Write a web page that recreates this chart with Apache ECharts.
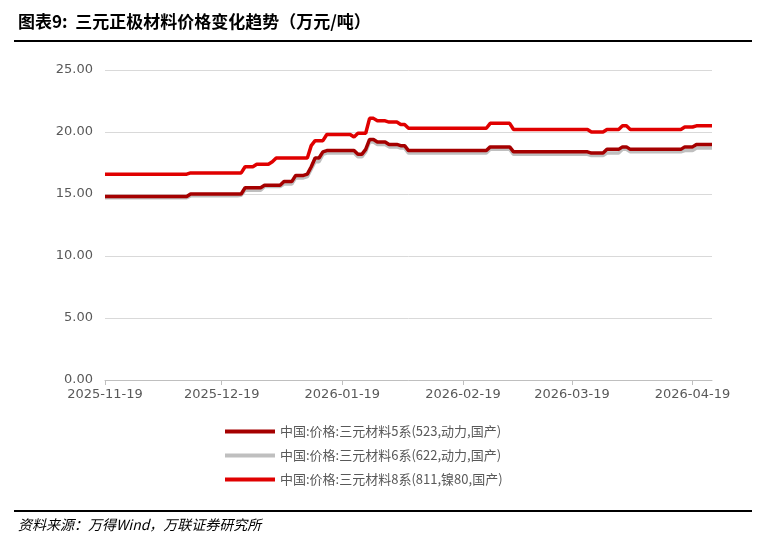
<!DOCTYPE html>
<html><head><meta charset="utf-8">
<script src="https://cdn.jsdelivr.net/npm/echarts@6/dist/echarts.min.js"></script>
<style>html,body{margin:0;padding:0;background:#fff}#c{width:766px;height:543px}</style>
</head><body><div id="c"></div>
<script>
const startDate = '2025-11-19', endDate = '2026-04-24';
const names = ['中国:价格:三元材料5系(523,动力,国产)','中国:价格:三元材料6系(622,动力,国产)','中国:价格:三元材料8系(811,镍80,国产)'];
// change points: [date, value]
const s523 = [['2025-11-19',14.8],['2025-12-11',15.0],['2025-12-24',15.0],['2025-12-25',15.5],['2025-12-30',15.7],['2026-01-04',16.0],['2026-01-07',16.5],['2026-01-10',16.6],['2026-01-11',17.2],['2026-01-12',17.9],['2026-01-14',18.4],['2026-01-15',18.5],['2026-01-22',18.5],['2026-01-23',18.2],['2026-01-25',18.6],['2026-01-26',19.4],['2026-01-28',19.2],['2026-01-31',19.0],['2026-02-03',18.9],['2026-02-05',18.5],['2026-02-26',18.8],['2026-03-04',18.4],['2026-03-24',18.3],['2026-03-28',18.6],['2026-04-01',18.8],['2026-04-03',18.6],['2026-04-17',18.8],['2026-04-20',19.0]];
const s622 = [['2025-11-19',14.7],['2025-12-11',14.85],['2025-12-24',14.9],['2025-12-25',15.3],['2025-12-30',15.6],['2026-01-04',15.8],['2026-01-07',16.3],['2026-01-10',16.4],['2026-01-11',17.0],['2026-01-12',17.6],['2026-01-14',18.2],['2026-01-15',18.3],['2026-01-22',18.3],['2026-01-23',18.0],['2026-01-25',18.4],['2026-01-26',19.2],['2026-01-28',19.0],['2026-01-31',18.8],['2026-02-03',18.7],['2026-02-05',18.3],['2026-02-26',18.6],['2026-03-04',18.2],['2026-03-24',18.1],['2026-03-28',18.3],['2026-04-01',18.6],['2026-04-03',18.4],['2026-04-17',18.5],['2026-04-20',18.7]];
const s811 = [['2025-11-19',16.6],['2025-12-11',16.7],['2025-12-24',16.7],['2025-12-25',17.2],['2025-12-28',17.4],['2026-01-01',17.6],['2026-01-02',17.9],['2026-01-10',17.9],['2026-01-11',18.9],['2026-01-12',19.3],['2026-01-15',19.8],['2026-01-21',19.8],['2026-01-22',19.6],['2026-01-23',19.9],['2026-01-25',19.9],['2026-01-26',21.1],['2026-01-28',20.9],['2026-01-31',20.8],['2026-02-03',20.6],['2026-02-05',20.3],['2026-02-26',20.7],['2026-03-04',20.2],['2026-03-24',20.0],['2026-03-28',20.2],['2026-04-01',20.5],['2026-04-03',20.2],['2026-04-17',20.4],['2026-04-20',20.5]];
const yTicks = [0,5,10,15,20,25];

function fmt(d){return d.toISOString().slice(0,10);}
const dates=[];
for(let d=new Date(startDate+'T00:00:00Z'); d<=new Date(endDate+'T00:00:00Z'); d.setUTCDate(d.getUTCDate()+1)) dates.push(fmt(d));
function expand(pts){
  const m=new Map(pts); let cur=null;
  return dates.map(dt=>{ if(m.has(dt)) cur=m.get(dt); return cur; });
}
const colors=['#a50000','#bfbfbf','#e00000'];
const chart=echarts.init(document.getElementById('c'));
chart.setOption({
  animation:false,
  textStyle:{fontFamily:'"Noto Sans CJK SC", sans-serif'},
  grid:{left:105,right:54,top:70,bottom:163},
  xAxis:{type:'category',data:dates,boundaryGap:false,
    axisLine:{lineStyle:{color:'#bfbfbf'}},
    axisTick:{show:true,interval:(i,v)=>v.slice(8)==='19',lineStyle:{color:'#bfbfbf'}},
    axisLabel:{interval:(i,v)=>v.slice(8)==='19',color:'#595959',fontSize:13,fontFamily:'"DejaVu Sans", sans-serif',margin:8}},
  yAxis:{type:'value',min:yTicks[0],max:yTicks[yTicks.length-1],interval:5,
    axisLabel:{formatter:v=>v.toFixed(2),color:'#595959',fontSize:13,fontFamily:'"DejaVu Sans", sans-serif',margin:12},
    splitLine:{lineStyle:{color:'#d9d9d9'}},axisLine:{show:false},axisTick:{show:false}},
  legend:{orient:'vertical',left:220,top:420,itemGap:11,itemWidth:50,itemHeight:4,
    icon:'rect',textStyle:{fontSize:13,color:'#595959'},
    data:[names[0],names[1],names[2]]},
  series:[
    {name:names[1],type:'line',data:expand(s622),showSymbol:false,lineStyle:{width:3.5,color:colors[1]},itemStyle:{color:colors[1]},z:1},
    {name:names[0],type:'line',data:expand(s523),showSymbol:false,lineStyle:{width:3.5,color:colors[0]},itemStyle:{color:colors[0]},z:2},
    {name:names[2],type:'line',data:expand(s811),showSymbol:false,lineStyle:{width:3.5,color:colors[2]},itemStyle:{color:colors[2]},z:3}
  ],
  graphic:[
    {type:'text',left:18,top:13,style:{text:'图表9:  三元正极材料价格变化趋势（万元/吨）',fontSize:17,fontWeight:'bold',fill:'#000',fontFamily:'"Noto Sans CJK SC", sans-serif'}},
    {type:'rect',shape:{x:14,y:40,width:738,height:2},style:{fill:'#000'}},
    {type:'rect',shape:{x:14,y:510,width:738,height:2},style:{fill:'#000'}},
    {type:'text',left:18,top:518,style:{text:'资料来源：万得Wind，万联证券研究所',fontSize:14,fontStyle:'italic',fill:'#000',fontFamily:'"Noto Sans CJK SC", sans-serif'}}
  ]
});
</script></body></html>
